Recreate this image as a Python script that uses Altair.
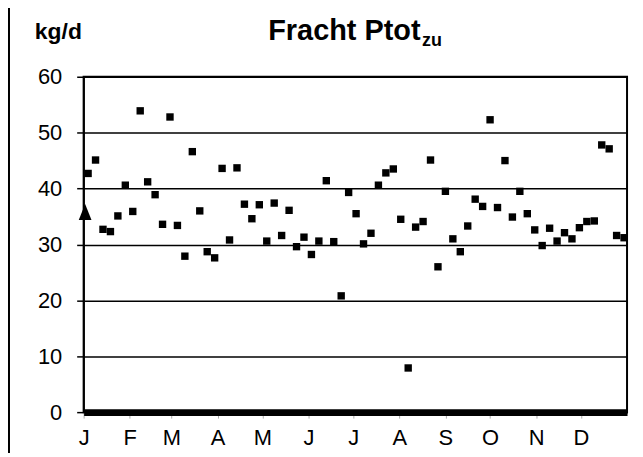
import altair as alt
import pandas as pd

# Day of year for each measurement
days = [3, 8, 13, 18, 23, 28, 33, 38, 43, 48, 53, 58, 63, 68, 73, 78, 83, 88, 93, 98,
        103, 108, 113, 118, 123, 128, 133, 138, 143, 148, 153, 158, 163, 168, 173, 178,
        183, 188, 193, 198, 203, 208, 213, 218, 223, 228, 233, 238, 243, 248, 253, 258,
        263, 268, 273, 278, 283, 288, 293, 298, 303, 308, 313, 318, 323, 328, 333, 338,
        343, 348, 353, 358, 363]
# Fracht Ptot zu (kg/d)
values = [42.7, 45.1, 32.7, 32.3, 35.1, 40.6, 35.9, 53.9, 41.2, 38.9,
          33.6, 52.8, 33.4, 27.9, 46.6, 36.0, 28.7, 27.6, 43.6, 30.8,
          43.7, 37.2, 34.6, 37.1, 30.6, 37.4, 31.6, 36.1, 29.6, 31.3,
          28.2, 30.6, 41.4, 30.5, 20.8, 39.3, 35.5, 30.1, 32.0, 40.6,
          42.8, 43.5, 34.5, 7.9, 33.1, 34.1, 45.1, 26.0, 39.5, 31.0,
          28.7, 33.3, 38.1, 36.8, 52.3, 36.6, 45.0, 34.9, 39.5, 35.5,
          32.6, 29.8, 32.9, 30.6, 32.1, 31.0, 33.0, 34.1, 34.2, 47.8,
          47.1, 31.6, 31.2]
# Triangle marker (start value)
marker_day = [1]
marker_value = [35.8]

month_starts = [0, 31, 59, 90, 120, 151, 181, 212, 243, 273, 304, 334]
month_labels = ["J", "F", "M", "A", "M", "J", "J", "A", "S", "O", "N", "D"]
y_ticks = [0, 10, 20, 30, 40, 50, 60]

W, H = 546, 337
FONT = "Liberation Sans"

df = pd.DataFrame({"day": days, "value": values})
dm = pd.DataFrame({"day": marker_day, "value": marker_value})

label_expr = ("[" + ",".join("'%s'" % m for m in month_labels) + "][indexof(["
              + ",".join(str(d) for d in month_starts) + "], datum.value)]")

xenc = alt.X("day:Q",
             scale=alt.Scale(domain=[0, 365], nice=False, zero=False),
             axis=alt.Axis(values=month_starts, labelExpr=label_expr, title=None,
                           grid=False, domainWidth=7, domainColor="black",
                           tickColor="#aaaaaa", tickSize=6, tickWidth=1,
                           labelFontSize=22, labelFont=FONT, labelColor="black",
                           labelPadding=10, labelAngle=0, labelFlush=False,
                           labelOverlap=False))
yenc = alt.Y("value:Q",
             scale=alt.Scale(domain=[0, 60], nice=False, zero=True),
             axis=alt.Axis(values=y_ticks, title=None, grid=True, gridColor="black",
                           gridWidth=1.5, domainColor="black", domainWidth=1.5,
                           tickColor="black", tickSize=7, tickWidth=1.5,
                           labelFontSize=22, labelFont=FONT, labelColor="black",
                           labelPadding=15))

points = alt.Chart(df).mark_point(shape="square", filled=True, size=55,
                                  color="black", opacity=1).encode(x=xenc, y=yenc)
tri = alt.Chart(dm).mark_point(shape="M0,-1L-0.8,1L0.8,1Z", filled=True, size=256,
                               color="black", opacity=1).encode(x="day:Q", y="value:Q")

title_df = pd.DataFrame({"t": ["Fracht Ptot"]})
title = alt.Chart(title_df).mark_text(font=FONT, fontSize=29, fontWeight="bold",
                                      align="center", baseline="alphabetic",
                                      color="black").encode(
    text="t:N", x=alt.value(262), y=alt.value(-37))
sub_df = pd.DataFrame({"t": ["zu"]})
sub = alt.Chart(sub_df).mark_text(font=FONT, fontSize=18, fontWeight="bold",
                                  align="left", baseline="alphabetic",
                                  color="black").encode(
    text="t:N", x=alt.value(340), y=alt.value(-31))
unit_df = pd.DataFrame({"t": ["kg/d"]})
unit = alt.Chart(unit_df).mark_text(font=FONT, fontSize=23, fontWeight="bold",
                                    align="left", baseline="alphabetic",
                                    color="black").encode(
    text="t:N", x=alt.value(-49), y=alt.value(-38))

border = alt.Chart(title_df).mark_rule(color="black", strokeWidth=2).encode(
    x=alt.value(-75), y=alt.value(-70), y2=alt.value(H + 50))

chart = alt.layer(points, tri, title, sub, unit, border).properties(
    width=W, height=H,
    autosize=alt.AutoSizeParams(type="none"),
    padding={"left": 76, "top": 68, "right": 8, "bottom": 40},
    background="white",
).configure_view(stroke="black", strokeWidth=2)

chart.save("out.html", embed_options={"renderer": "svg", "actions": False})
